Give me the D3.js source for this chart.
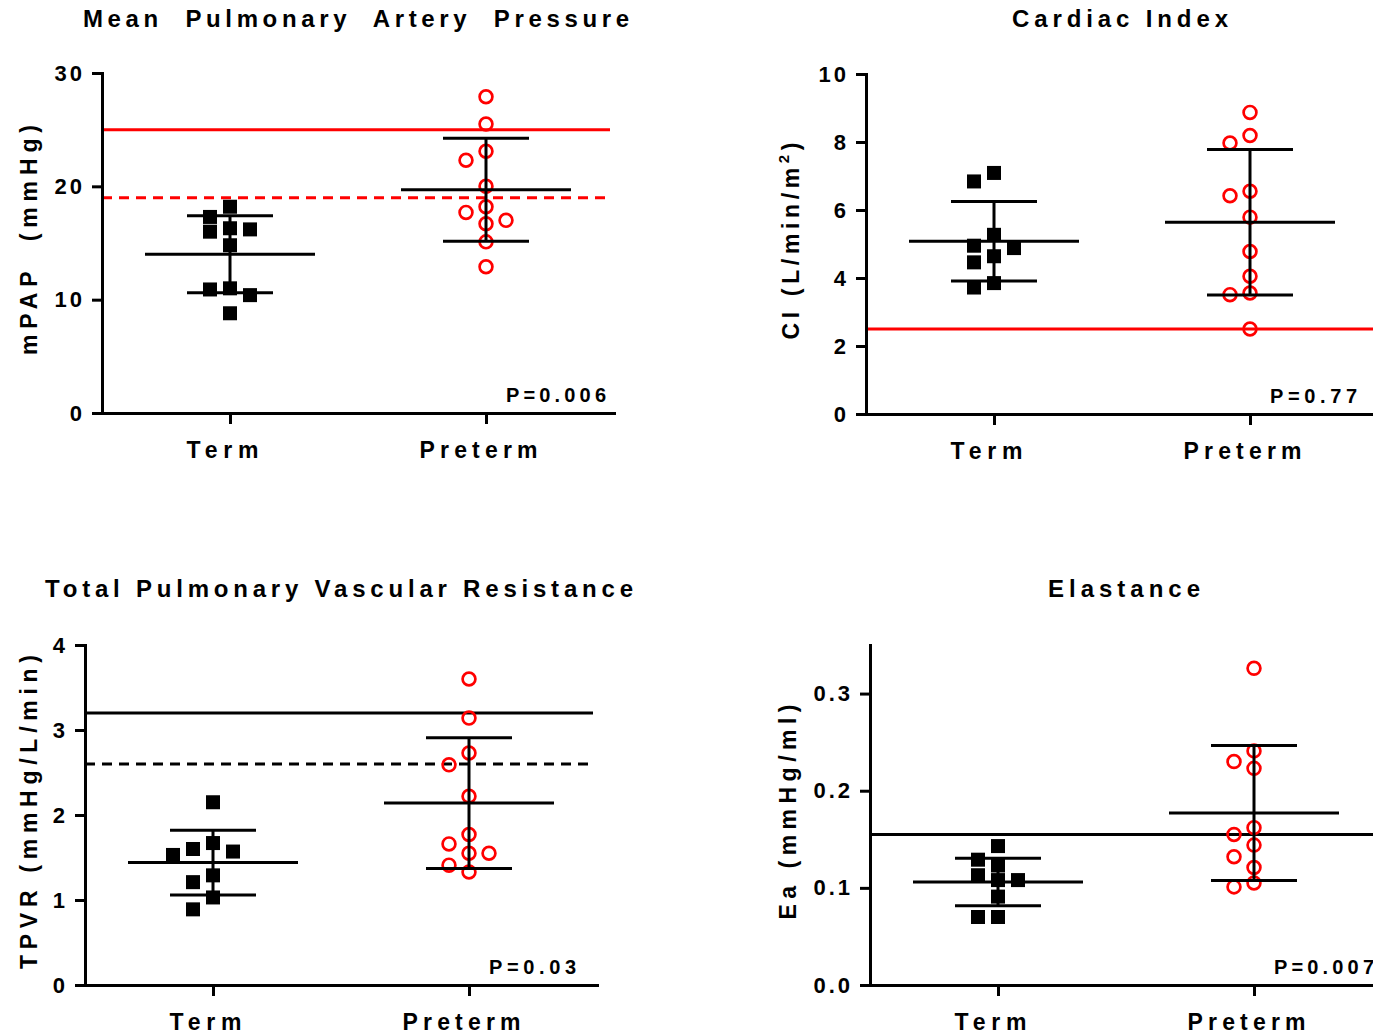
<!DOCTYPE html>
<html><head><meta charset="utf-8">
<script src="https://cdn.jsdelivr.net/npm/d3@7"></script>
<style>
body{margin:0;background:#fff}
svg{display:block}
text{font-family:"Liberation Sans",Arial,Helvetica,sans-serif;font-weight:bold;fill:#000;white-space:pre}
</style>
</head><body>
<svg id="c" width="1373" height="1036"></svg>
<script>
// ---------- data ----------
const groups = ["Term", "Preterm"];

const mpapTerm = [18.2, 17.3, 16.3, 16.2, 16.0, 14.8, 11.0, 10.9, 10.4, 8.8];
const mpapPreterm = [27.9, 25.5, 23.1, 22.3, 20.0, 18.2, 17.7, 17.0, 16.7, 15.1, 12.9];
const mpapMean = [14.0, 19.7];
const mpapSD = [3.4, 4.55];
const mpapRefLines = [25, 19];
const mpapTicks = [0, 10, 20, 30];

const ciTerm = [7.09, 6.84, 5.27, 4.95, 4.88, 4.64, 4.46, 3.85, 3.72];
const ciPreterm = [8.87, 8.19, 7.97, 6.55, 6.42, 5.79, 4.78, 4.05, 3.56, 3.51, 2.5];
const ciMean = [5.08, 5.64];
const ciSD = [1.17, 2.14];
const ciRefLines = [2.5];
const ciTicks = [0, 2, 4, 6, 8, 10];

const tpvrTerm = [2.15, 1.67, 1.60, 1.57, 1.53, 1.29, 1.21, 1.03, 0.89];
const tpvrPreterm = [3.60, 3.14, 2.73, 2.59, 2.22, 1.77, 1.66, 1.55, 1.55, 1.41, 1.33];
const tpvrMean = [1.44, 2.14];
const tpvrSD = [0.38, 0.77];
const tpvrRefLines = [3.2, 2.6];
const tpvrTicks = [0, 1, 2, 3, 4];

const eaTerm = [0.143, 0.129, 0.123, 0.113, 0.108, 0.108, 0.091, 0.070, 0.070];
const eaPreterm = [0.326, 0.241, 0.230, 0.223, 0.162, 0.155, 0.144, 0.132, 0.121, 0.105, 0.101];
const eaMean = [0.106, 0.177];
const eaSD = [0.0245, 0.0695];
const eaRefLines = [0.155];
const eaTicks = [0, 0.1, 0.2, 0.3];

const titles = ["Mean  Pulmonary  Artery  Pressure", "Cardiac Index", "Total Pulmonary Vascular Resistance", "Elastance"];
const yLabels = ["mPAP  (mmHg)", "CI (L/min/m", "TPVR (mmHg/L/min)", "Ea (mmHg/ml)"];
const pValues = ["P=0.006", "P=0.77", "P=0.03", "P=0.007"];

// ---------- layout ----------
const svg = d3.select("#c");
const PW = 512, PH = 340;
const xLabelLen = {"Term": 72, "Preterm": 118};

const panels = [
  {title: titles[0], titleLen: 546, ylabel: yLabels[0], ylabLen: 230, term: mpapTerm, pre: mpapPreterm, mean: mpapMean, sd: mpapSD,
   refs: mpapRefLines, refColor: "#ff0000", refDash: [false, true], ticks: mpapTicks, ymax: 30, fmt: d3.format("d"),
   p: pValues[0], pLen: 100, x0: 102, top: 73, labX: 37, titleY: 27},
  {title: titles[1], titleLen: 216, ylabel: yLabels[1], ylabLen: 197, sup: "2", term: ciTerm, pre: ciPreterm, mean: ciMean, sd: ciSD,
   refs: ciRefLines, refColor: "#ff0000", refDash: [false], ticks: ciTicks, ymax: 10, fmt: d3.format("d"),
   p: pValues[1], pLen: 87, x0: 866, top: 74, labX: 799, titleY: 27},
  {title: titles[2], titleLen: 588, ylabel: yLabels[2], ylabLen: 314, term: tpvrTerm, pre: tpvrPreterm, mean: tpvrMean, sd: tpvrSD,
   refs: tpvrRefLines, refColor: "#000", refDash: [false, true], ticks: tpvrTicks, ymax: 4, fmt: d3.format("d"),
   p: pValues[2], pLen: 87, x0: 85, top: 645, labX: 37, titleY: 597},
  {title: titles[3], titleLen: 152, ylabel: yLabels[3], ylabLen: 215, term: eaTerm, pre: eaPreterm, mean: eaMean, sd: eaSD,
   refs: eaRefLines, refColor: "#000", refDash: [false], ticks: eaTicks, ymax: 0.35, fmt: d3.format(".1f"),
   p: pValues[3], pLen: 100, x0: 870, top: 645, labX: 796, titleY: 597}
];

function swarm(values, y, size, step) {
  const placed = [];
  const order = values.map((v, i) => i).sort((a, b) => values[b] - values[a]);
  const out = [];
  order.forEach(i => {
    const py = y(values[i]);
    for (let k = 0; k < 30; k++) {
      const slot = k === 0 ? 0 : (k % 2 === 1 ? -Math.ceil(k / 2) : Math.ceil(k / 2));
      const px = slot * step;
      if (!placed.some(p => Math.abs(p.x - px) < size && Math.abs(p.y - py) < size)) {
        placed.push({x: px, y: py});
        out.push({dx: px, v: values[i]});
        break;
      }
    }
  });
  return out;
}

panels.forEach((cfg) => {
  const g = svg.append("g").attr("transform", `translate(${cfg.x0},${cfg.top})`);
  const y = d3.scaleLinear().domain([0, cfg.ymax]).range([PH, 0]);
  const x = d3.scalePoint().domain(groups).range([0, PW]).padding(0.5);

  // title
  svg.append("text")
    .attr("x", cfg.x0 + PW / 2 - 2).attr("y", cfg.titleY)
    .attr("text-anchor", "middle")
    .attr("textLength", cfg.titleLen).attr("lengthAdjust", "spacing")
    .style("font-size", "24px")
    .text(cfg.title);

  // y label
  const yl = svg.append("text")
    .attr("transform", `translate(${cfg.labX},${cfg.top + PH / 2 - 3}) rotate(-90)`)
    .attr("text-anchor", "middle")
    .attr("textLength", cfg.ylabLen).attr("lengthAdjust", "spacing")
    .style("font-size", "23px");
  if (!cfg.sup) {
    yl.text(cfg.ylabel);
  } else {
    yl.append("tspan").text(cfg.ylabel);
    yl.append("tspan").attr("dy", -10).style("font-size", "15px").text(cfg.sup);
    yl.append("tspan").attr("dy", 10).text(")");
  }

  // reference lines
  cfg.refs.forEach((v, i) => {
    g.append("line")
      .attr("x1", 0).attr("x2", PW - 4)
      .attr("y1", y(v)).attr("y2", y(v))
      .attr("stroke", cfg.refColor).attr("stroke-width", 3)
      .attr("stroke-dasharray", cfg.refDash[i] ? "10,7" : null);
  });

  // points: Term squares
  const sq = 14;
  swarm(cfg.term, y, 14, 10).forEach(d => {
    g.append("rect")
      .attr("x", x("Term") + d.dx - sq / 2).attr("y", y(d.v) - sq / 2)
      .attr("width", sq).attr("height", sq).attr("fill", "#000");
  });
  // Preterm circles
  swarm(cfg.pre, y, 14, 10).forEach(d => {
    g.append("circle")
      .attr("cx", x("Preterm") + d.dx).attr("cy", y(d.v))
      .attr("r", 6.4).attr("fill", "none")
      .attr("stroke", "#ff0000").attr("stroke-width", 2.7);
  });

  // mean +/- SD
  groups.forEach((grp, gi) => {
    const cx = x(grp), m = cfg.mean[gi], s = cfg.sd[gi];
    const bar = g.append("g").attr("stroke", "#000").attr("stroke-width", 3);
    bar.append("line").attr("x1", cx - 85).attr("x2", cx + 85).attr("y1", y(m)).attr("y2", y(m));
    bar.append("line").attr("x1", cx).attr("x2", cx).attr("y1", y(m - s)).attr("y2", y(m + s));
    bar.append("line").attr("x1", cx - 43).attr("x2", cx + 43).attr("y1", y(m + s)).attr("y2", y(m + s));
    bar.append("line").attr("x1", cx - 43).attr("x2", cx + 43).attr("y1", y(m - s)).attr("y2", y(m - s));
  });

  // axes
  const ya = g.append("g").call(
    d3.axisLeft(y).tickValues(cfg.ticks).tickSize(10).tickSizeOuter(0).tickPadding(7).tickFormat(cfg.fmt));
  const xa = g.append("g").attr("transform", `translate(0,${PH})`).call(
    d3.axisBottom(x).tickSize(11).tickSizeOuter(0).tickPadding(18));
  [ya, xa].forEach(a => {
    a.select(".domain").attr("stroke", "#000").attr("stroke-width", 3).attr("stroke-linecap", "square");
    a.selectAll(".tick line").attr("stroke", "#000").attr("stroke-width", 3);
    a.selectAll("text").attr("fill", "#000")
      .style("font-family", '"Liberation Sans",Arial,sans-serif').style("font-weight", "bold");
  });
  ya.selectAll("text").style("font-size", "22px").style("letter-spacing", "3px");
  xa.selectAll("text").style("font-size", "23px")
    .attr("textLength", d => xLabelLen[d]).attr("lengthAdjust", "spacing")
    .attr("dx", -8);

  // p value
  g.append("text")
    .attr("x", 404).attr("y", PH - 11)
    .attr("textLength", cfg.pLen).attr("lengthAdjust", "spacing")
    .style("font-size", "20px")
    .text(cfg.p);
});
</script>
</body></html>
